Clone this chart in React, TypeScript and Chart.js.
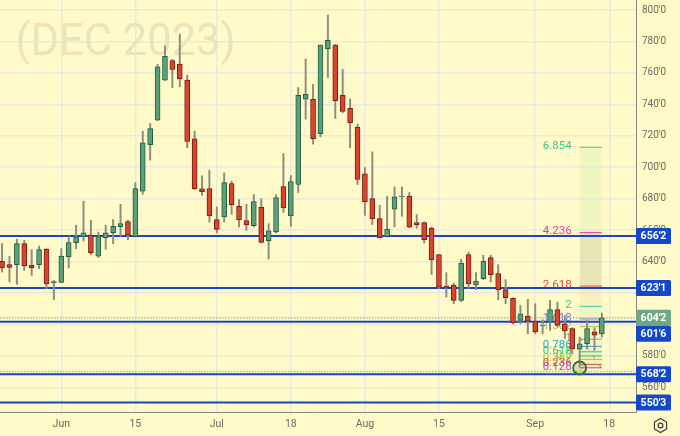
import { useEffect, useRef } from "react";
import { Chart, registerables } from "chart.js";

Chart.register(...registerables);

const dates = ["May 19","May 22","May 23","May 24","May 25","May 26","May 30","May 31","Jun 1","Jun 2","Jun 5","Jun 6","Jun 7","Jun 8","Jun 9","Jun 12","Jun 13","Jun 14","Jun 15","Jun 16","Jun 20","Jun 21","Jun 22","Jun 23","Jun 26","Jun 27","Jun 28","Jun 29","Jun 30","Jul 3","Jul 5","Jul 6","Jul 7","Jul 10","Jul 11","Jul 12","Jul 13","Jul 14","Jul 17","Jul 18","Jul 19","Jul 20","Jul 21","Jul 24","Jul 25","Jul 26","Jul 27","Jul 28","Jul 31","Aug 1","Aug 2","Aug 3","Aug 4","Aug 7","Aug 8","Aug 9","Aug 10","Aug 11","Aug 14","Aug 15","Aug 16","Aug 17","Aug 18","Aug 21","Aug 22","Aug 23","Aug 24","Aug 25","Aug 28","Aug 29","Aug 30","Aug 31","Sep 1","Sep 5","Sep 6","Sep 7","Sep 8","Sep 11","Sep 12","Sep 13","Sep 14","Sep 15","Sep 18"];

const opens = [640.1,638,638,651.4,637.6,638,648,626.6,626.8,643.1,652,655.8,656.9,643.5,655.2,658.4,662.2,665.4,655.8,684.7,714.4,729.9,755.4,767.9,765.6,755.4,718.1,686.2,686.4,666.7,668.4,689.6,675.2,666,662.9,674.5,653.3,658.8,687.7,669,689,743.3,743.3,721.4,775.4,777.7,745.7,737.4,725.3,695.8,680,667.3,655.8,673.3,681.1,681.7,664.8,664.8,661.2,644.4,624.4,625.1,615.3,644.4,625.1,629.1,642.5,632.3,622.1,616.6,602.6,605.1,602.1,599,601.5,609.4,600.4,597.3,584.3,587.7,595.3,593.9];
const highs = [651.4,643.3,654.2,653.5,647.6,649.9,648.2,628,648.2,656.1,663.1,678.4,666.3,658.8,663.1,666.7,676.4,666.3,690.2,722.9,727.8,765.4,777.3,768.6,784.7,758.6,722.9,694.5,698.1,674.7,696.4,691.1,679.4,676.4,682.6,680,664.1,682.6,708.7,694.7,750.7,768.8,752.7,777.7,796.8,778.1,762.2,743.5,727.4,699.8,709.8,675.8,681.5,687.5,687.5,683.9,669.9,665.2,662,644.4,632.9,626.3,641.4,646.1,632.9,644,644,638,628.5,617,612.1,615.9,613.2,603,615.3,614.2,605.7,597.9,591.9,602.6,597.9,607.2];
const lows = [633.3,627,625.5,634.4,631.2,635.5,622.7,615.7,626.6,635.9,648.2,653.1,644.4,642.5,647.8,651.4,656.1,653.9,655.6,682.8,704.5,729.7,755.2,750.5,751.2,712.3,685.8,682.2,665.2,658.2,665.2,670.1,662,659.9,662,651.8,641.6,658.2,671.3,662.4,683.9,730.6,714.7,719.3,757.1,731,734.6,712.3,689,669.4,663.5,655.2,655.6,662,668.8,661.4,661.2,651.8,631.9,622.7,617.4,613.2,614.5,622.7,622.1,628.5,627,615.7,613.2,600.4,600.4,594.1,594.1,594.1,596.2,598.3,591.1,581.3,572.8,584.5,583.5,591.9];
const closes = [635.9,636.3,651.4,637.2,635.9,647.6,625.7,627.2,643.5,652,655.8,658.2,645.7,656.3,658.2,662.4,664.1,656.9,686.4,715.5,724.6,763.9,770.5,762.2,756.1,716.4,686.4,684.5,669,660.5,690.2,676.2,666.5,663.3,678.1,652.2,659.5,680.7,674.1,690.9,745.7,746.3,718.1,777.7,780.7,742.3,735.5,728.2,692.2,678.1,667.3,655.2,660.7,681.1,681.7,661.8,663.5,653.9,641.2,623.8,623.2,615.3,639,625.7,627.6,640.1,631.6,622.1,617,601,606.8,602.1,595.3,599.4,609.4,599.4,595.8,584.5,587.7,597.3,593.2,604.25];

const tickDates = ["Jun 1","Jun 15","Jul 3","Jul 18","Aug 1","Aug 15","Sep 1","Sep 18"];
const tickLabels = ["Jun","15","Jul","18","Aug","15","Sep","18"];
const priceTicks = [560,580,600,620,640,660,680,700,720,740,760,780,800];
const hiddenPriceLabels = [600,620];

const supportLevels = [656.25,623.125,601.75,568.25,550.375];
const supportLabels = ["656'2","623'1","601'6","568'2","550'3"];
const lastPrice = 604.25;
const lastPriceLabel = "604'2";
const dottedLevels = [604.25,570];

const fibRatios = ["6.854","4.236","2.618","2","1.618","1.382","1","0.786","0.618","0.5","0.382","0.236","0.128"];
const fibPrices = [712.7,658.4,624.4,611.5,603.5,598.6,590.6,586.1,582.6,580,577.7,574.6,572.4];
const fibColors = ["#35c98f","#e0409f","#e0474c","#35c9a0","#7a72d8","#a8c83c","#9a9a8c","#2aa3cc","#30c39a","#5cc24a","#a8cc3c","#e0474c","#a850c4"];
const bandColors = ["rgba(205,235,170,0.28)","rgba(150,160,130,0.22)","rgba(225,195,120,0.16)","rgba(150,220,170,0.14)","rgba(150,150,220,0.06)","rgba(180,215,90,0.08)","rgba(150,150,130,0.06)","rgba(60,170,210,0.10)","rgba(60,200,150,0.12)","rgba(110,200,90,0.14)","rgba(170,210,60,0.14)","rgba(225,80,80,0.10)"];
const fibStart = "Sep 12";
const fibEnd = "Sep 15";
const markerPrice = 572.3;
const dashedPrices = [591.7,572];

const xMin = -0.278;
const xMax = 85.61;

const noPad = (s: any) => {
  s.paddingLeft = 0;
  s.paddingRight = 0;
  s.paddingTop = 0;
  s.paddingBottom = 0;
};

const overlay = {
  id: "overlay",
  beforeDraw(chart: any) {
    const c = chart.ctx;
    c.save();
    c.fillStyle = "#fffac8";
    c.fillRect(0, 0, chart.width, chart.height);
    c.restore();
  },
  beforeDatasetsDraw(chart: any) {
    const c = chart.ctx;
    const { x, y } = chart.scales;
    c.save();
    c.fillStyle = "#e8e4be";
    c.font = "43.5px Roboto";
    c.textAlign = "left";
    c.textBaseline = "alphabetic";
    c.fillText("(DEC 2023)", 15.5, 55);
    c.font = "11.5px Roboto";
    c.textAlign = "right";
    c.textBaseline = "middle";
    const px = x.getPixelForValue(dates.indexOf(fibStart)) - 8;
    fibRatios.forEach((r, i) => {
      c.fillStyle = fibColors[i];
      c.fillText(r, px, y.getPixelForValue(fibPrices[i]) - 1);
    });
    c.restore();
  },
  afterDraw(chart: any) {
    const c = chart.ctx;
    const { y, x } = chart.scales;
    const right = x.right;
    c.save();
    const boxes = [
      { v: lastPrice, t: lastPriceLabel, col: "#6fa684" },
      ...supportLevels.map((v, i) => ({ v, t: supportLabels[i], col: "#1447cb" })),
    ].sort((a, b) => b.v - a.v);
    let prevBottom = -100;
    boxes.forEach((b) => {
      let cy = y.getPixelForValue(b.v);
      if (cy - 8 < prevBottom) cy = prevBottom + 8;
      prevBottom = cy + 8;
      c.fillStyle = b.col;
      c.beginPath();
      c.roundRect(right, cy - 8, 35, 16, 1.5);
      c.fill();
      c.fillStyle = "#ffffff";
      c.font = "bold 10.5px Roboto";
      c.textAlign = "center";
      c.textBaseline = "middle";
      c.fillText(b.t, right + 17.5, cy + 0.5);
    });
    const cx = 660.5, cy = 425.5, r = 7;
    c.strokeStyle = "#3c3c3c";
    c.lineWidth = 1.2;
    c.beginPath();
    for (let k = 0; k < 6; k++) {
      const a = Math.PI / 6 + (k * Math.PI) / 3;
      const px = cx + r * Math.cos(a), py = cy + r * Math.sin(a);
      if (k === 0) c.moveTo(px, py); else c.lineTo(px, py);
    }
    c.closePath();
    c.stroke();
    c.beginPath();
    c.arc(cx, cy, 2.4, 0, Math.PI * 2);
    c.stroke();
    c.restore();
  },
};

export default function App() {
  const ref = useRef<HTMLCanvasElement>(null);
  useEffect(() => {
    document.body.style.margin = "0";
    const i0 = dates.indexOf(fibStart);
    const i1 = dates.indexOf(fibEnd);
    const seg = (a: number, b: number, va: number, vb: number) => [{ x: a, y: va }, { x: b, y: vb }];
    const datasets: any[] = [];
    const candleIdx = opens.map((_, i) => i);
    datasets.push({
      type: "line", order: 0, data: [{ x: i0, y: markerPrice }], showLine: false,
      pointRadius: 6.5, pointBackgroundColor: "rgba(130,130,110,0.25)", pointBorderColor: "#2a7a30", pointBorderWidth: 2,
    });
    datasets.push({
      type: "bar", order: 1, grouped: false, barThickness: 5, borderWidth: 1, borderSkipped: false,
      data: candleIdx.map((i) => ({ x: i, y: [opens[i], closes[i]] })),
      backgroundColor: candleIdx.map((i) => (closes[i] >= opens[i] ? "#5c9f7a" : "#d9442f")),
      borderColor: candleIdx.map((i) => (closes[i] >= opens[i] ? "#22603f" : "#7d1c12")),
    });
    datasets.push({
      type: "bar", order: 2, grouped: false, barThickness: 1.3, borderWidth: 0,
      data: candleIdx.map((i) => ({ x: i, y: [lows[i], highs[i]] })),
      backgroundColor: "#8c8c80",
    });
    supportLevels.forEach((v) => datasets.push({
      type: "line", order: 3, data: seg(xMin, xMax, v, v), borderColor: "#1a46c4", borderWidth: 2, pointRadius: 0,
    }));
    dottedLevels.forEach((v) => datasets.push({
      type: "line", order: 4, data: seg(xMin, xMax, v, v), borderColor: "#a3bf9f", borderWidth: 1.5, borderDash: [1.5, 1.5], pointRadius: 0,
    }));
    datasets.push({
      type: "line", order: 4, data: seg(i0, i1, dashedPrices[0], dashedPrices[1]), borderColor: "#8a8a80", borderWidth: 1, borderDash: [4, 7], pointRadius: 0,
    });
    fibPrices.forEach((v, k) => datasets.push({
      type: "line", order: 5, data: seg(i0, i1, v, v), borderColor: fibColors[k], borderWidth: 1, pointRadius: 0,
    }));
    bandColors.forEach((col, k) => datasets.push({
      type: "line", order: 6, data: seg(i0, i1, fibPrices[k], fibPrices[k]), borderWidth: 0, pointRadius: 0,
      fill: { target: { value: fibPrices[k + 1] } }, backgroundColor: col,
    }));

    const tickIdx = tickDates.map((d) => dates.indexOf(d));
    const grid = "#e9e9df";
    const chart = new Chart(ref.current!, {
      type: "bar",
      data: { datasets },
      plugins: [overlay],
      options: {
        responsive: false,
        animation: false,
        layout: { padding: 0, autoPadding: false },
        plugins: { legend: { display: false }, tooltip: { enabled: false }, title: { display: false } },
        scales: {
          x: {
            type: "linear", min: xMin, max: xMax, offset: false,
            afterBuildTicks: (s: any) => { s.ticks = tickIdx.map((value) => ({ value })); },
            afterFit: (s: any) => { s.height = 24; noPad(s); },
            grid: { color: grid, lineWidth: 1.5, drawTicks: false, offset: false },
            border: { color: "#87877c", width: 1 },
            ticks: {
              autoSkip: false, maxRotation: 0, padding: 6, color: "#6a6a64",
              font: { family: "Roboto", size: 10.5 },
              callback: (v: any) => tickLabels[tickIdx.indexOf(v)] ?? "",
            },
          },
          y: {
            type: "linear", position: "right", min: 544.3, max: 806.37,
            afterBuildTicks: (s: any) => { s.ticks = priceTicks.map((value) => ({ value })); },
            afterFit: (s: any) => { s.width = 44; noPad(s); },
            grid: { color: grid, lineWidth: 1.5, drawTicks: false },
            border: { color: "#87877c", width: 1 },
            ticks: {
              padding: 6, color: "#6a6a64", autoSkip: false,
              font: { family: "Roboto", size: 10 },
              callback: (v: any) => (hiddenPriceLabels.includes(v) ? "" : `${v}'0`),
            },
          },
        },
      } as any,
    } as any);
    return () => chart.destroy();
  }, []);
  return <canvas ref={ref} width={680} height={436} style={{ display: "block" }} />;
}
